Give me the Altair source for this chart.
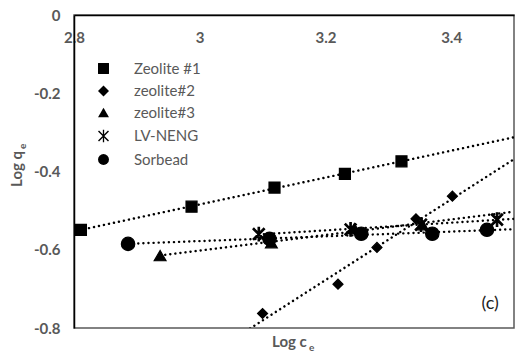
import altair as alt
import pandas as pd

FONT = "Lato"
GRAY = "#595959"

series_names = ["Zeolite #1", "zeolite#2", "zeolite#3", "LV-NENG", "Sorbead"]

z1_x = [2.811, 2.987, 3.119, 3.231, 3.321]
z1_y = [-0.549, -0.490, -0.441, -0.406, -0.374]
z2_x = [3.100, 3.220, 3.282, 3.344, 3.402]
z2_y = [-0.763, -0.688, -0.594, -0.521, -0.463]
z3_x = [2.937, 3.114, 3.246, 3.354]
z3_y = [-0.615, -0.582, -0.546, -0.536]
lv_x = [3.094, 3.240, 3.352, 3.473]
lv_y = [-0.560, -0.548, -0.536, -0.523]
sb_x = [2.886, 3.111, 3.257, 3.370, 3.457]
sb_y = [-0.585, -0.572, -0.559, -0.559, -0.549]

trend_start = [2.80, 3.08, 2.937, 3.094, 2.886]
trend_end = 3.5

x_ticks = [2.8, 3.0, 3.2, 3.4]
y_ticks = [0, -0.2, -0.4, -0.6, -0.8]

# filled asterisk (two diagonals + vertical bar) so it renders in marks and legend
ASTERISK = ("M-1,-0.82L-0.82,-1L1,0.82L0.82,1Z"
            "M0.82,-1L1,-0.82L-0.82,1L-1,0.82Z"
            "M-0.12,-1.15L0.12,-1.15L0.12,1.15L-0.12,1.15Z")
shapes = ["square", "diamond", "triangle-up", ASTERISK, "circle"]
sizes = [121, 100, 140, 140, 180]

xs = [z1_x, z2_x, z3_x, lv_x, sb_x]
ys = [z1_y, z2_y, z3_y, lv_y, sb_y]
rows = []
for name, xv, yv in zip(series_names, xs, ys):
    for a, b in zip(xv, yv):
        rows.append({"series": name, "x": a, "y": b})
df = pd.DataFrame(rows)

note_df = pd.DataFrame({"x": [3.462], "y": [-0.738], "t": ["(c)"]})

xscale = alt.Scale(domain=[2.8, 3.5], nice=False, zero=False)
yscale = alt.Scale(domain=[-0.8, 0], nice=False, zero=False)

xaxis = alt.Axis(orient="top", values=x_ticks, labelExpr="'' + datum.value",
                 ticks=False, tickSize=0, grid=False, domainColor="black",
                 domainWidth=1.5, labelPadding=-22, labelBaseline="middle",
                 labelFlush=False, labelFont=FONT, labelFontSize=15,
                 labelFontWeight="bold", labelColor=GRAY, title=None)
yaxis = alt.Axis(orient="left", values=y_ticks, labelExpr="'' + datum.value",
                 ticks=False, tickSize=0, grid=False, domainColor="black",
                 domainWidth=1.5, labelPadding=14, labelFlush=False,
                 labelFont=FONT, labelFontSize=15, labelFontWeight="bold",
                 labelColor=GRAY, title=None)

X = alt.X("x:Q", scale=xscale, axis=xaxis)
Y = alt.Y("y:Q", scale=yscale, axis=yaxis)

legend = alt.Legend(title=None, orient="none", legendX=22, legendY=46,
                    labelFont=FONT, labelFontSize=15, labelColor=GRAY,
                    symbolSize=120, symbolFillColor="black",
                    symbolStrokeColor="black", symbolStrokeWidth=1.2,
                    rowPadding=5.5, labelOffset=23, padding=0)
S = alt.Shape("series:N", scale=alt.Scale(domain=series_names, range=shapes),
              legend=legend)

lines = []
for name, start in zip(series_names, trend_start):
    ln = (alt.Chart(df)
          .transform_filter(alt.datum.series == name)
          .transform_regression("x", "y", extent=[start, trend_end])
          .mark_line(color="black", strokeWidth=2.4, strokeDash=[0.1, 5],
                     strokeCap="round", clip=True)
          .encode(x=X, y=Y))
    lines.append(ln)

pts = []
for name, sz in zip(series_names, sizes):
    p = (alt.Chart(df)
         .transform_filter(alt.datum.series == name)
         .mark_point(filled=True, size=sz, color="black", stroke="black",
                     strokeWidth=1.2, opacity=1)
         .encode(x=X, y=Y, shape=S))
    pts.append(p)

note = alt.Chart(note_df).mark_text(
    font=FONT, fontSize=18, color="#222222"
).encode(x=X, y=Y, text="t:N")

title_style = dict(font=FONT, fontWeight="bold", color=GRAY)
xt_main = alt.Chart(pd.DataFrame({"t": ["Log c"]})).mark_text(
    align="left", baseline="alphabetic", fontSize=15, **title_style
).encode(x=alt.value(198), y=alt.value(332), text="t:N")
xt_sub = alt.Chart(pd.DataFrame({"t": ["e"]})).mark_text(
    align="left", baseline="alphabetic", fontSize=10, **title_style
).encode(x=alt.value(235), y=alt.value(336), text="t:N")
yt_main = alt.Chart(pd.DataFrame({"t": ["Log q"]})).mark_text(
    align="left", baseline="alphabetic", fontSize=15, angle=270, **title_style
).encode(x=alt.value(-52), y=alt.value(172), text="t:N")
yt_sub = alt.Chart(pd.DataFrame({"t": ["e"]})).mark_text(
    align="left", baseline="alphabetic", fontSize=10, angle=270, **title_style
).encode(x=alt.value(-48), y=alt.value(134), text="t:N")

chart = alt.layer(*lines, *pts, note, xt_main, xt_sub, yt_main, yt_sub).properties(
    width=440, height=313,
    autosize=alt.AutoSizeParams(type="none"),
    padding={"left": 74, "top": 15, "right": 1, "bottom": 26},
).configure_view(stroke=GRAY, strokeWidth=1.5)

chart.save("out.html", embed_options={"renderer": "svg", "actions": False})
